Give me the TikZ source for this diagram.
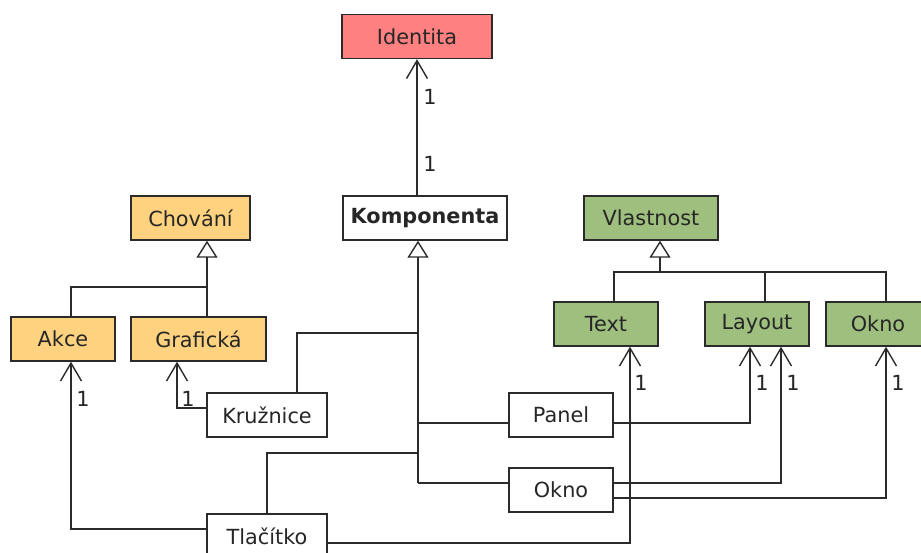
\documentclass[tikz,border=0pt]{standalone}
\usepackage{fontspec}
\setmainfont{DejaVu Sans}
\usetikzlibrary{arrows.meta}
\definecolor{linegray}{HTML}{2B2B2B}
\definecolor{textgray}{HTML}{262626}
\definecolor{idred}{HTML}{FF8080}
\definecolor{behave}{HTML}{FFD27F}
\definecolor{propgreen}{HTML}{9FBF7F}
\newcommand{\umlfont}{\fontsize{20.8}{24}\selectfont}
\tikzset{
  cls/.style={draw=linegray, line width=1.4pt, minimum height=44pt,
    inner sep=0pt, text=textgray, font=\umlfont},
  conn/.style={draw=linegray, line width=1.4pt},
  assoc/.style={conn, -{Straight Barb[length=18pt,width=21pt]}},
  inherit/.style={conn, -{Triangle[open,length=17pt,width=21pt,fill=white]}},
  mult/.style={text=textgray, inner sep=0pt, font=\umlfont}
}
\begin{document}
\begin{tikzpicture}[x=1pt, y=-1pt]
\useasboundingbox[fill=white] (0,0) rectangle (921,553);

% classes
\node[cls, fill=idred, minimum width=150pt] (ident) at (417,36.5) {Identita};
\node[cls, fill=behave, minimum width=119pt] (chov) at (190.5,218) {Chování};
\node[cls, fill=white, minimum width=164pt, font=\umlfont\bfseries] (komp) at (425,218) {Komponenta};
\node[cls, fill=propgreen, minimum width=134pt] (vlast) at (651,218) {Vlastnost};
\node[cls, fill=behave, minimum width=104pt] (akce) at (63,339) {Akce};
\node[cls, fill=behave, minimum width=135pt] (graf) at (198.5,339) {Grafická};
\node[cls, fill=propgreen, minimum width=104pt] (text) at (606,324) {Text};
\node[cls, fill=propgreen, minimum width=104pt] (layout) at (757,324) {Layout};
\node[cls, fill=propgreen, minimum width=104pt] (oknog) at (878,324) {Okno};
\node[cls, fill=white, minimum width=120pt] (kruz) at (267,415) {Kružnice};
\node[cls, fill=white, minimum width=104pt] (panel) at (561,415) {Panel};
\node[cls, fill=white, minimum width=104pt] (okno) at (561,490) {Okno};
\node[cls, fill=white, minimum width=120pt] (tlac) at (267,536) {Tlačítko};

% junction points of the generalization trees
\coordinate (chovJ) at (207,287);
\coordinate (vlastJ) at (660,272);
\coordinate (kompEnd) at (418,483);

% Komponenta -> Identita
\draw[assoc] (ident.south |- komp.north) -- (ident.south);
\node[mult] (m1) at (430,97) {1};
\node[mult] (m2) at (430,164) {1};

% generalization: Chování
\draw[conn] (akce.north -| 71,0) |- (chovJ);
\draw[inherit] (graf.north -| chovJ) -- (chov.south -| chovJ);

% generalization: Vlastnost
\draw[conn] (text.north -| 614,0) |- (vlastJ -| 886,0) -- (oknog.north -| 886,0);
\draw[conn] (layout.north -| 765,0) -- (vlastJ -| 765,0);
\draw[inherit] (vlastJ) -- (vlast.south -| vlastJ);

% generalization: Komponenta
\draw[inherit] (kompEnd) -- (komp.south -| kompEnd);
\draw[conn] (kruz.north -| 297,0) |- (kompEnd |- 0,333);
\draw[conn] (tlac.north) |- (kompEnd |- 0,453);
\draw[conn] (panel.west |- 0,423) -- (kompEnd |- 0,423);
\draw[conn] (okno.west |- 0,483) -- (kompEnd);

% associations
\draw[assoc] ([yshift=7pt]kruz.west) -| (graf.south -| 177,0);
\node[mult] (m3) at (188,399) {1};
\draw[assoc] ([yshift=7pt]tlac.west) -| (akce.south -| 71,0);
\node[mult] (m4) at (83,399) {1};
\draw[assoc] ([yshift=-7pt]tlac.east) -| (text.south -| 630,0);
\node[mult] (m5) at (641,383) {1};
\draw[assoc] (panel.east |- 0,423) -| (layout.south -| 750,0);
\node[mult] (m6) at (762,383) {1};
\draw[assoc] (okno.east |- 0,483) -| (layout.south -| 781,0);
\node[mult] (m7) at (793,383) {1};
\draw[assoc] (okno.east |- 0,498) -| (oknog.south -| 886,0);
\node[mult] (m8) at (898,383) {1};
\end{tikzpicture}
\end{document}
